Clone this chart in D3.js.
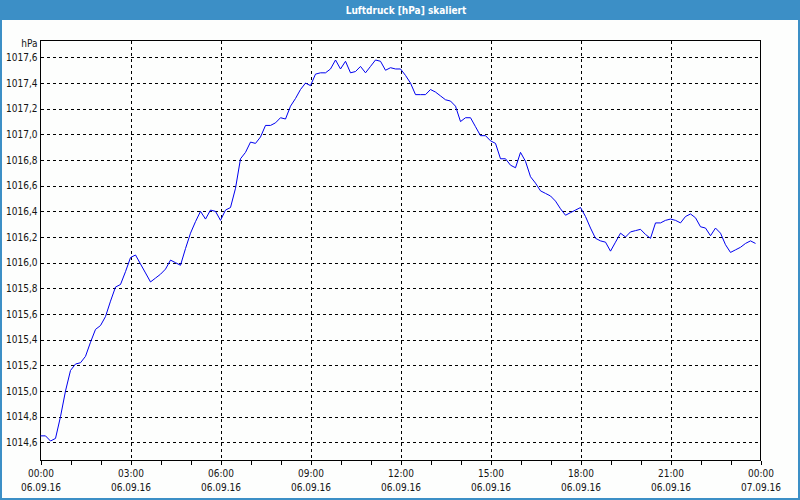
<!DOCTYPE html>
<html><head><meta charset="utf-8">
<script src="https://cdn.jsdelivr.net/npm/d3@7"></script>
<style>
html,body{margin:0;padding:0;background:#fff;}
svg{display:block;}
text{font-family:"DejaVu Sans Condensed","Liberation Sans",sans-serif;}
</style></head>
<body>
<svg id="c" width="800" height="500"></svg>
<script>
const title = "Luftdruck [hPa] skaliert";
const unit = "hPa";
const startTime = "2016-09-06T00:00:00";
const endTime = "2016-09-07T00:00:00";
const stepMinutes = 10;
const pressure = [
1014.65,1014.65,1014.61,1014.63,1014.80,1015.00,1015.16,1015.21,1015.22,1015.27,
1015.38,1015.48,1015.51,1015.58,1015.70,1015.81,1015.83,1015.93,1016.04,1016.06,
1015.99,1015.92,1015.85,1015.88,1015.91,1015.95,1016.02,1016.00,1015.98,1016.11,
1016.23,1016.32,1016.40,1016.34,1016.41,1016.40,1016.33,1016.41,1016.43,1016.58,
1016.81,1016.86,1016.94,1016.93,1016.98,1017.07,1017.07,1017.09,1017.13,1017.12,
1017.22,1017.28,1017.35,1017.40,1017.38,1017.47,1017.48,1017.48,1017.51,1017.58,
1017.51,1017.57,1017.48,1017.49,1017.53,1017.48,1017.53,1017.58,1017.57,1017.50,
1017.52,1017.51,1017.51,1017.46,1017.40,1017.31,1017.31,1017.31,1017.35,1017.33,
1017.30,1017.27,1017.26,1017.22,1017.10,1017.13,1017.13,1017.06,1016.99,1016.99,
1016.95,1016.93,1016.81,1016.81,1016.76,1016.74,1016.86,1016.79,1016.67,1016.62,
1016.56,1016.54,1016.52,1016.48,1016.42,1016.37,1016.39,1016.41,1016.43,1016.36,
1016.27,1016.19,1016.17,1016.16,1016.09,1016.16,1016.23,1016.20,1016.24,1016.25,
1016.26,1016.22,1016.19,1016.31,1016.31,1016.33,1016.34,1016.33,1016.31,1016.36,
1016.38,1016.35,1016.28,1016.27,1016.21,1016.27,1016.23,1016.14,1016.08,1016.10,
1016.12,1016.15,1016.17,1016.15];
const yTicks = [1014.6,1014.8,1015.0,1015.2,1015.4,1015.6,1015.8,1016.0,1016.2,1016.4,1016.6,1016.8,1017.0,1017.2,1017.4,1017.6];
const yDomain = [1014.458, 1017.732];

const W = 800, H = 500;
const m = {left:40.5, right:760.5, top:40.5, bottom:460.5};
const FONT = "DejaVu Sans Condensed, Liberation Sans, sans-serif";
const TXT = "#141414";
const svg = d3.select("#c");
const parse = d3.timeParse("%Y-%m-%dT%H:%M:%S");
const t0 = parse(startTime), t1 = parse(endTime);
const data = pressure.map((v,i)=>({t:d3.timeMinute.offset(t0, i*stepMinutes), v}));

const x = d3.scaleTime().domain([t0,t1]).range([m.left, m.right]);
const y = d3.scaleLinear().domain(yDomain).range([m.bottom, m.top]);

// background and frame
svg.append("rect").attr("x",0).attr("y",0).attr("width",W).attr("height",H).attr("fill","#fdfefd");
svg.append("rect").attr("x",0).attr("y",0).attr("width",W).attr("height",20).attr("fill","#3c8fc6");
svg.append("rect").attr("x",1).attr("y",1).attr("width",W-2).attr("height",H-2)
  .attr("fill","none").attr("stroke","#3c8fc6").attr("stroke-width",2);
svg.append("text").attr("x",W/2+6).attr("y",13.5).attr("text-anchor","middle")
  .attr("fill","#fff").attr("font-size","10px").attr("font-weight","bold").text(title);

// grid
const majorTimes = d3.timeHour.every(3).range(t0, d3.timeMinute.offset(t1,1));
svg.append("g").selectAll("line").data(majorTimes.filter(d=>+d!==+t0 && +d!==+t1)).join("line")
  .attr("x1",d=>Math.round(x(d))+0.5).attr("x2",d=>Math.round(x(d))+0.5)
  .attr("y1",m.top).attr("y2",m.bottom)
  .attr("stroke","#000").attr("stroke-dasharray","3,3").attr("shape-rendering","crispEdges");
svg.append("g").selectAll("line").data(yTicks).join("line")
  .attr("x1",m.left).attr("x2",m.right)
  .attr("y1",d=>Math.round(y(d))+0.5).attr("y2",d=>Math.round(y(d))+0.5)
  .attr("stroke","#000").attr("stroke-dasharray","3,3").attr("shape-rendering","crispEdges");

// plot border
svg.append("rect").attr("x",m.left).attr("y",m.top).attr("width",m.right-m.left).attr("height",m.bottom-m.top)
  .attr("fill","none").attr("stroke","#000").attr("shape-rendering","crispEdges");

// y axis
const yAxis = d3.axisLeft(y).tickValues(yTicks).tickSize(0).tickPadding(3)
  .tickFormat(d=>d3.format(".1f")(d).replace(".",","));
const ya = svg.append("g").attr("transform",`translate(${m.left},0)`).call(yAxis);
ya.select(".domain").remove();
ya.selectAll("text").attr("font-size","10px").attr("fill",TXT).attr("font-family",FONT);
svg.append("text").attr("x",m.left-3).attr("y",46.5).attr("text-anchor","end")
  .attr("font-size","10px").attr("fill",TXT).text(unit);

// x axis: hourly minor ticks
const xMinor = d3.axisBottom(x).ticks(d3.timeHour.every(1)).tickSize(4).tickFormat("");
const xm = svg.append("g").attr("transform",`translate(0,${m.bottom})`).call(xMinor);
xm.select(".domain").remove();
xm.selectAll("line").attr("stroke","#000").attr("shape-rendering","crispEdges");

const xAxis = d3.axisBottom(x).tickValues(majorTimes).tickSize(0).tickPadding(9)
  .tickFormat(d3.timeFormat("%H:%M"));
const xa = svg.append("g").attr("transform",`translate(0,${m.bottom})`).call(xAxis);
xa.select(".domain").remove();
xa.selectAll("text").attr("font-size","10px").attr("fill",TXT).attr("font-family",FONT);
const xAxis2 = d3.axisBottom(x).tickValues(majorTimes).tickSize(0).tickPadding(23.5)
  .tickFormat(d3.timeFormat("%d.%m.%y"));
const xb = svg.append("g").attr("transform",`translate(0,${m.bottom})`).call(xAxis2);
xb.select(".domain").remove();
xb.selectAll("text").attr("font-size","10px").attr("fill",TXT).attr("font-family",FONT);

// line
svg.append("path").datum(data)
  .attr("fill","none").attr("stroke","#0000f0").attr("stroke-width",1)
  .attr("d", d3.line().x(d=>x(d.t)).y(d=>y(d.v)));
</script>
</body></html>
